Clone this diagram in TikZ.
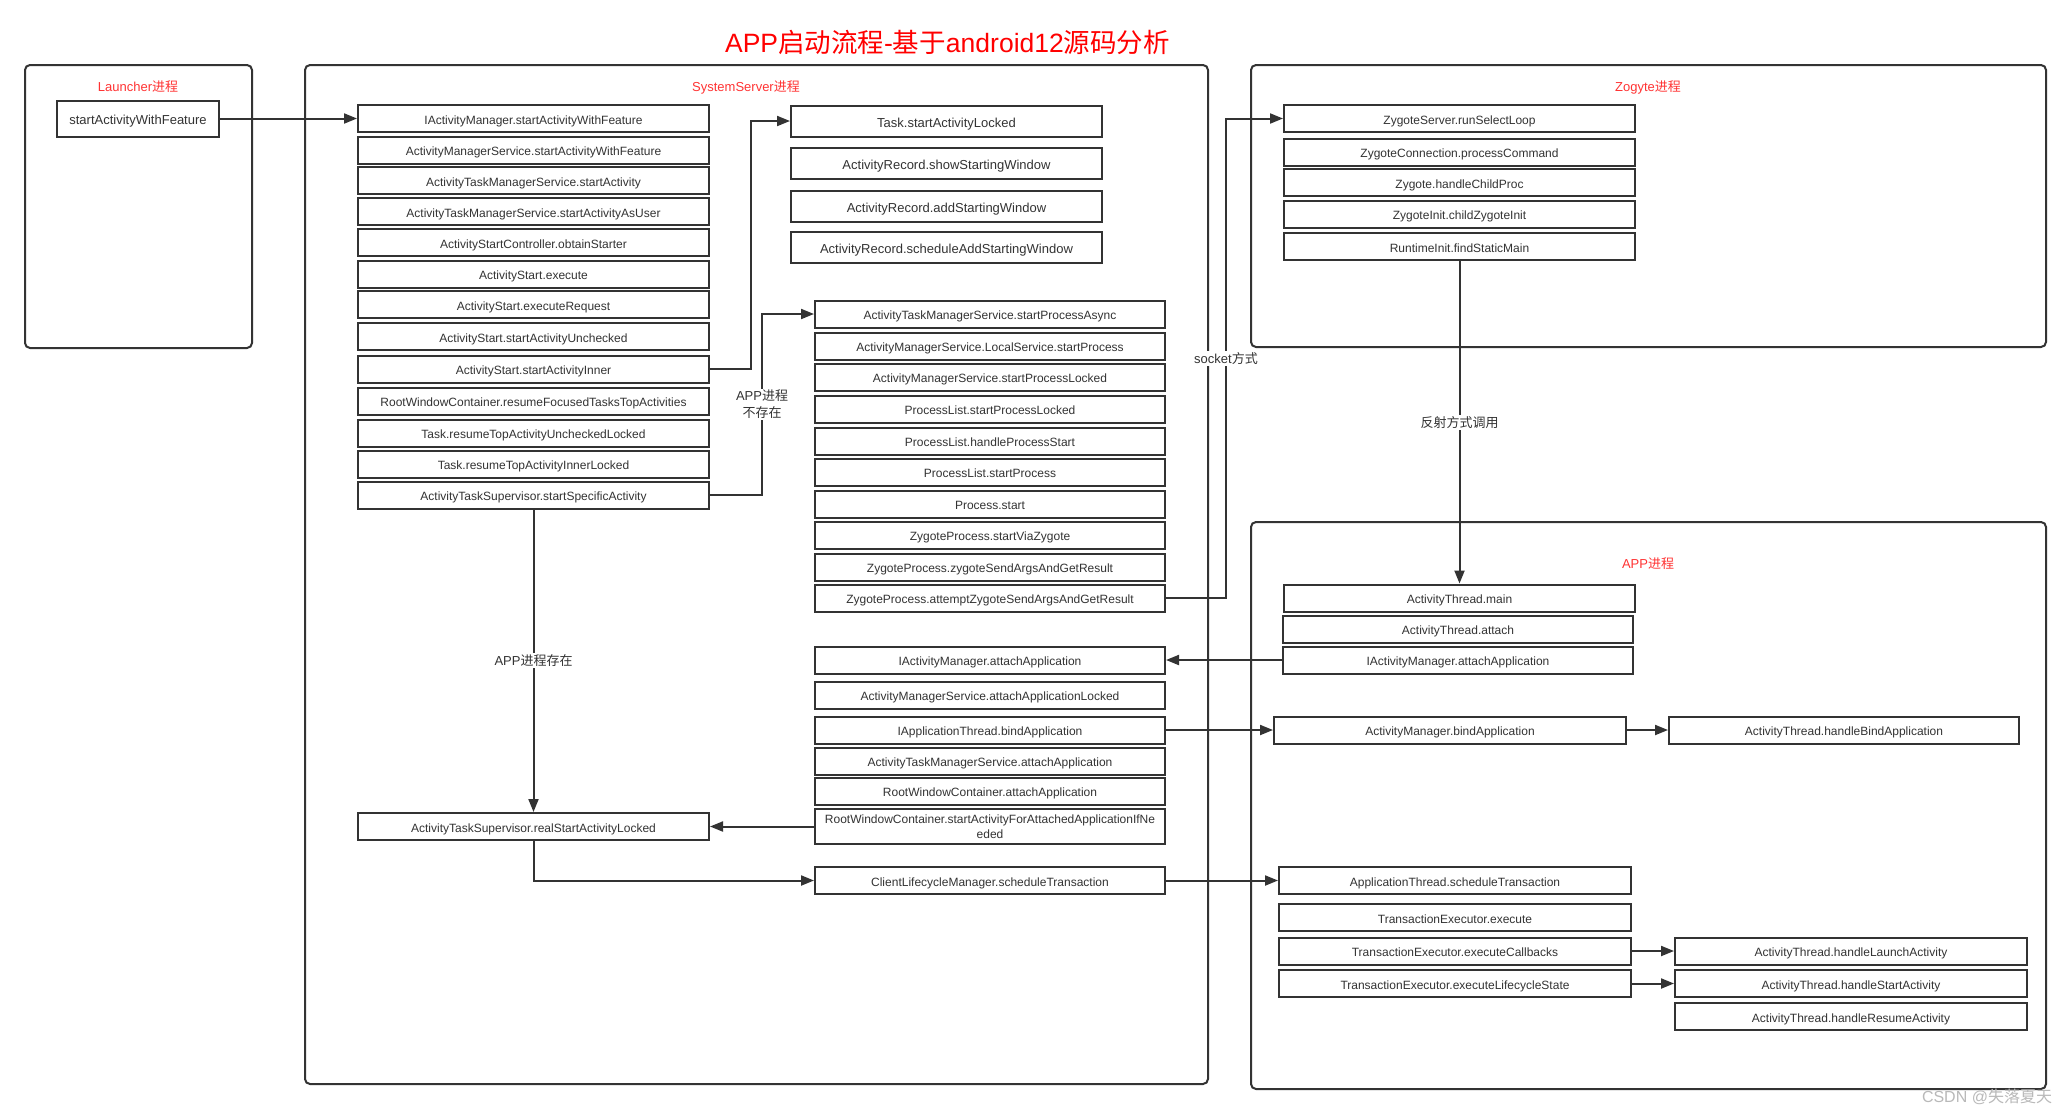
\documentclass[tikz,border=0pt]{standalone}
\usepackage{fontspec}
\setmainfont{Liberation Sans}
\newfontfamily\cjk{Noto Sans CJK SC}
\usetikzlibrary{arrows.meta}
\definecolor{ink}{HTML}{333333}
\definecolor{lbl}{HTML}{FF3333}
\begin{document}
\begin{tikzpicture}[x=1pt,y=-1pt,
  fn/.style={draw=ink, fill=white, line width=2pt, inner sep=0pt, text=ink,
    font=\fontsize{12}{15}\selectfont, minimum height=27pt,
    text height=11pt, text depth=0pt},
  lcol/.style={fn, minimum width=351pt},
  mup/.style={fn, minimum width=311pt, minimum height=31pt, font=\fontsize{13}{15}\selectfont, text height=12pt},
  mlo/.style={fn, minimum width=350pt},
  zcol/.style={fn, minimum width=351pt},
  acol/.style={fn, minimum width=351pt},
  grp/.style={draw=ink, line width=2pt, rounded corners=5pt},
  glab/.style={text=lbl, font=\fontsize{13}{15}\selectfont},
  arr/.style={draw=ink, line width=2pt, -{Triangle[length=13pt,width=10pt]}},
  elab/.style={fill=white, text=ink, font=\fontsize{13}{17}\selectfont, inner sep=1.5pt}
]
\useasboundingbox (0,0) rectangle (2071,1114);
\fill[white] (0,0) rectangle (2071,1114);

% title
\node[text=red, font=\fontsize{26.5}{30}\selectfont] (title) at (947.5,42)
  {APP{\cjk 启动流程}-{\cjk 基于}android12{\cjk 源码分析}};

% group boxes
\draw[grp] (25,65) rectangle (252,348);
\draw[grp] (305,65) rectangle (1208,1084);
\draw[grp] (1251,65) rectangle (2046,347);
\draw[grp] (1251,522) rectangle (2046,1089);
\node[glab] (gl1) at (138,87) {Launcher{\cjk 进程}};
\node[glab] (gl2) at (746,87) {SystemServer{\cjk 进程}};
\node[glab] (gl3) at (1648,87) {Zogyte{\cjk 进程}};
\node[glab] (gl4) at (1648,564) {APP{\cjk 进程}};

% launcher
\node[fn, minimum width=162pt, minimum height=36pt, font=\fontsize{13}{15}\selectfont, text height=12pt] (sawf) at (138,118.5) {startActivityWithFeature};

% system server left column
\node[lcol] (iam1) at (533.5,118.5) {IActivityManager.startActivityWithFeature};
\node[lcol] (ams1) at (533.5,150) {ActivityManagerService.startActivityWithFeature};
\node[lcol] (atms1) at (533.5,180.5) {ActivityTaskManagerService.startActivity};
\node[lcol] (atms2) at (533.5,211.5) {ActivityTaskManagerService.startActivityAsUser};
\node[lcol] (asc) at (533.5,242.5) {ActivityStartController.obtainStarter};
\node[lcol] (ase) at (533.5,274) {ActivityStart.execute};
\node[lcol] (aser) at (533.5,304.5) {ActivityStart.executeRequest};
\node[lcol] (asu) at (533.5,336.5) {ActivityStart.startActivityUnchecked};
\node[lcol] (inner) at (533.5,369) {ActivityStart.startActivityInner};
\node[lcol] (rwc1) at (533.5,401) {RootWindowContainer.resumeFocusedTasksTopActivities};
\node[lcol] (trul) at (533.5,433) {Task.resumeTopActivityUncheckedLocked};
\node[lcol] (tril) at (533.5,464) {Task.resumeTopActivityInnerLocked};
\node[lcol] (ssa) at (533.5,495) {ActivityTaskSupervisor.startSpecificActivity};
\node[lcol] (rsal) at (533.5,826.5) {ActivityTaskSupervisor.realStartActivityLocked};

% middle upper
\node[mup] (tsal) at (946.5,121) {Task.startActivityLocked};
\node[mup] (ssw) at (946.5,163.5) {ActivityRecord.showStartingWindow};
\node[mup] (asw) at (946.5,206) {ActivityRecord.addStartingWindow};
\node[mup] (sasw) at (946.5,247) {ActivityRecord.scheduleAddStartingWindow};

% middle lower
\node[mlo] (spa) at (990,314) {ActivityTaskManagerService.startProcessAsync};
\node[mlo] (lssp) at (990,346) {ActivityManagerService.LocalService.startProcess};
\node[mlo] (amspl) at (990,377) {ActivityManagerService.startProcessLocked};
\node[mlo] (plspl) at (990,409) {ProcessList.startProcessLocked};
\node[mlo] (plhps) at (990,441) {ProcessList.handleProcessStart};
\node[mlo] (plsp) at (990,472) {ProcessList.startProcess};
\node[mlo] (ps) at (990,504) {Process.start};
\node[mlo] (zpsv) at (990,535) {ZygoteProcess.startViaZygote};
\node[mlo] (zpz) at (990,567) {ZygoteProcess.zygoteSendArgsAndGetResult};
\node[mlo] (azs) at (990,598) {ZygoteProcess.attemptZygoteSendArgsAndGetResult};
\node[mlo] (iama) at (990,660) {IActivityManager.attachApplication};
\node[mlo] (amsal) at (990,695) {ActivityManagerService.attachApplicationLocked};
\node[mlo] (itb) at (990,730) {IApplicationThread.bindApplication};
\node[mlo] (atmsa) at (990,761) {ActivityTaskManagerService.attachApplication};
\node[mlo] (rwca) at (990,791) {RootWindowContainer.attachApplication};
\node[mlo, minimum height=35pt, align=center, text height=, text depth=] (rwcs) at (990,826.5) {RootWindowContainer.startActivityForAttachedApplicationIfNe\\eded};
\node[mlo] (clm) at (990,880.5) {ClientLifecycleManager.scheduleTransaction};

% zygote
\node[zcol] (zsl) at (1459.5,118.5) {ZygoteServer.runSelectLoop};
\node[zcol] (zcp) at (1459.5,152) {ZygoteConnection.processCommand};
\node[zcol] (zhc) at (1459.5,182.5) {Zygote.handleChildProc};
\node[zcol] (zci) at (1459.5,214) {ZygoteInit.childZygoteInit};
\node[zcol] (fsm) at (1459.5,246.5) {RuntimeInit.findStaticMain};

% app
\node[acol] (atm) at (1459.5,598) {ActivityThread.main};
\node[acol, minimum width=350pt] (ata) at (1458,629) {ActivityThread.attach};
\node[acol, minimum width=350pt] (iam2) at (1458,660) {IActivityManager.attachApplication};
\node[acol, minimum width=352pt] (amb) at (1450,730) {ActivityManager.bindApplication};
\node[acol, minimum width=350pt] (hba) at (1844,730) {ActivityThread.handleBindApplication};
\node[acol, minimum width=352pt] (ast) at (1455,880.5) {ApplicationThread.scheduleTransaction};
\node[acol, minimum width=352pt] (tee) at (1455,917.5) {TransactionExecutor.execute};
\node[acol, minimum width=352pt] (tec) at (1455,951) {TransactionExecutor.executeCallbacks};
\node[acol, minimum width=352pt] (tel) at (1455,983.5) {TransactionExecutor.executeLifecycleState};
\node[acol, minimum width=352pt] (hla) at (1851,951) {ActivityThread.handleLaunchActivity};
\node[acol, minimum width=352pt] (hsa) at (1851,983.5) {ActivityThread.handleStartActivity};
\node[acol, minimum width=352pt] (hra) at (1851,1016.5) {ActivityThread.handleResumeActivity};

% connectors
\draw[arr] (sawf.east) -- (iam1.west);
\draw[arr] (inner.east) -- ++(41,0) |- (tsal.west);
\draw[arr] (ssa.east) -- ++(52,0) |- node[elab, align=center, pos=0.25] {APP{\cjk 进程}\\{\cjk 不存在}} (spa.west);
\draw[arr] (ssa.south) -- node[elab] {APP{\cjk 进程存在}} (rsal.north);
\draw[arr] (rwcs.west) -- (rsal.east);
\draw[arr] (rsal.south) |- (clm.west);
\draw[arr] (azs.east) -- ++(60,0) |- node[elab, pos=0.25] {socket{\cjk 方式}} (zsl.west);
\draw[arr] (fsm.south) -- node[elab] {{\cjk 反射方式调用}} (atm.north);
\draw[arr] (iam2.west) -- (iama.east);
\draw[arr] (itb.east) -- (amb.west);
\draw[arr] (amb.east) -- (hba.west);
\draw[arr] (clm.east) -- (ast.west);
\draw[arr] (tec.east) -- (hla.west);
\draw[arr] (tel.east) -- (hsa.west);

% watermark
\node[text=gray!55, font=\fontsize{16}{18}\selectfont] (wm) at (1987,1097) {CSDN @{\cjk 失落夏天}};
\end{tikzpicture}
\end{document}
